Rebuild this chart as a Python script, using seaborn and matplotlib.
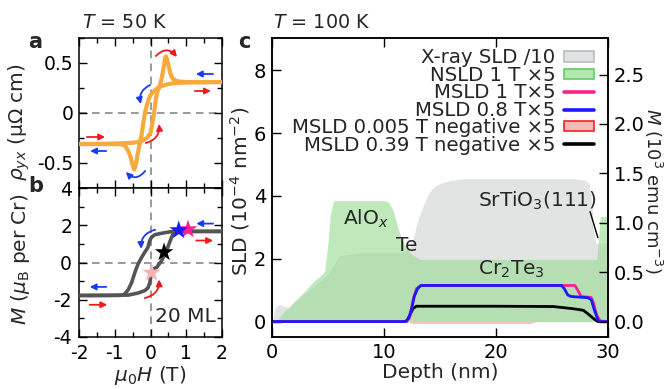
import numpy as np
import pandas as pd
import matplotlib
matplotlib.use("Agg")
import matplotlib.pyplot as plt
import seaborn as sns
from matplotlib.patches import Patch
from matplotlib.lines import Line2D
from matplotlib.ticker import MultipleLocator, FormatStrFormatter

# ---------------- data: panel a (Hall resistivity, 50 K) ----------------
rho_up_H = [-2.0, -1.5, -1.0, -0.6, -0.3, -0.2, -0.1, 0.0, 0.05, 0.1, 0.15, 0.2,
            0.26, 0.32, 0.38, 0.41, 0.43, 0.46, 0.50, 0.54, 0.58, 0.63, 0.70, 0.80,
            1.0, 1.5, 2.0]
rho_up = [-0.31, -0.31, -0.305, -0.30, -0.29, -0.27, -0.25, -0.20, -0.11, 0.0, 0.14, 0.22,
          0.27, 0.36, 0.48, 0.55, 0.565, 0.54, 0.48, 0.42, 0.37, 0.34, 0.325, 0.315,
          0.31, 0.31, 0.31]
rho_dn_H = [2.0, 1.0, 0.7, 0.5, 0.3, 0.2, 0.1, 0.0, -0.05, -0.1, -0.15, -0.2, -0.25,
            -0.3, -0.36, -0.41, -0.457, -0.5, -0.55, -0.62, -0.72, -0.85, -1.5, -2.0]
rho_dn = [0.31, 0.305, 0.30, 0.29, 0.27, 0.25, 0.22, 0.18, 0.14, 0.08, 0.01, -0.10, -0.22,
          -0.30, -0.41, -0.52, -0.565, -0.52, -0.45, -0.38, -0.323, -0.312, -0.31, -0.31]

# ---------------- data: panel b (magnetization, 50 K) ----------------
m_dn_H = [2.0, 1.0, 0.7, 0.59, 0.4, 0.26, 0.12, 0.03, -0.02, -0.07, -0.16, -0.25, -0.35,
          -0.44, -0.53, -0.62, -0.72, -0.81, -1.2, -2.0]
m_dn = [1.67, 1.67, 1.67, 1.66, 1.60, 1.55, 1.49, 1.36, 1.18, 0.82, 0.55, 0.27, -0.09,
        -0.55, -1.09, -1.45, -1.69, -1.76, -1.77, -1.77]
m_up_H = [-2.0, -1.0, -0.62, -0.35, -0.16, -0.07, -0.02, 0.01, 0.05, 0.10, 0.17, 0.31,
          0.40, 0.49, 0.59, 0.66, 0.73, 1.0, 2.0]
m_up = [-1.77, -1.76, -1.75, -1.64, -1.51, -1.36, -1.09, -0.73, -0.42, -0.32, -0.27, 0.09,
        0.45, 0.85, 1.36, 1.64, 1.67, 1.67, 1.67]
star_H = [0.03, 0.38, 1.05, 0.79]
star_M = [-0.55, 0.55, 1.78, 1.73]
star_colors = ["#f6b2b2", "#000000", "#ff1f8f", "#1a1aff"]

# ---------------- data: panel c (depth profiles, 100 K) ----------------
depth_x = [0, 0.3, 0.6, 1.0, 1.5, 2.0, 3.0, 4.0, 5.0, 6.0, 8.0, 10.0, 11.0, 12.0, 12.5,
           13.0, 13.5, 14.0, 14.5, 15.0, 16.0, 17.0, 20.0, 24.0, 27.0, 28.0, 28.3, 28.5,
           28.7, 28.9, 29.2, 30.0]
xray_sld = [0, 0.45, 0.55, 0.5, 0.45, 0.6, 0.9, 1.2, 1.5, 2.1, 2.2, 2.2, 2.2, 2.2, 2.5,
            3.2, 3.7, 4.1, 4.3, 4.4, 4.5, 4.55, 4.55, 4.55, 4.55, 4.5, 4.4, 4.0,
            3.0, 2.5, 2.5, 2.5]

depth_n = [0, 0.5, 1.0, 1.6, 2.0, 2.8, 3.7, 4.3, 4.7, 5.0, 5.2, 5.5, 6.0, 8.0, 10.0,
           10.4, 10.8, 11.3, 11.6, 12.3, 13.2, 16.0, 20.0, 24.0, 28.0, 29.0, 29.15, 29.3, 30.0]
nsld = [0, 0.05, 0.3, 0.49, 0.65, 0.92, 1.28, 1.45, 1.6, 2.5, 3.4, 3.85, 3.85, 3.85, 3.85,
        3.8, 3.55, 2.92, 2.6, 2.19, 1.98, 1.98, 1.98, 1.98, 1.98, 1.98, 2.6, 3.35, 3.35]

depth_r = [0, 12.0, 12.6, 23.0, 23.6, 30.0]
msld_neg005 = [0, 0, -0.06, -0.06, 0, 0]

depth_p = [0, 12.0, 12.3, 12.6, 12.9, 13.3, 20.0, 27.05, 27.3, 27.6, 28.5, 28.7, 29.0, 29.3, 30.0]
msld_1T = [0, 0, 0.15, 0.7, 1.05, 1.15, 1.15, 1.15, 1.0, 0.8, 0.77, 0.6, 0.2, 0.02, 0]

depth_b = [0, 11.9, 12.2, 12.5, 12.7, 13.0, 13.3, 20.0, 25.85, 26.1, 26.4, 26.7, 28.2,
           28.5, 28.8, 29.1, 29.3, 30.0]
msld_08T = [0, 0, 0.1, 0.45, 0.8, 1.05, 1.15, 1.15, 1.15, 1.05, 0.85, 0.8, 0.76,
            0.7, 0.35, 0.05, 0, 0]

depth_k = [0, 12.0, 12.3, 12.6, 12.9, 20.0, 25.1, 26.9, 27.8, 28.2, 28.7, 29.1, 30.0]
msld_039neg = [0, 0, 0.2, 0.42, 0.49, 0.49, 0.48, 0.41, 0.36, 0.25, 0.1, 0, 0]

legend_labels = ["X-ray SLD /10", "NSLD 1 T \u00d75", "MSLD 1 T\u00d75", "MSLD 0.8 T\u00d75",
                 "MSLD 0.005 T negative \u00d75", "MSLD 0.39 T negative \u00d75"]

# ---------------- style ----------------
sns.set_style("ticks")
plt.rcParams["font.family"] = ["DejaVu Sans"]
plt.rcParams["mathtext.fontset"] = "dejavusans"
plt.rcParams["axes.unicode_minus"] = False
plt.rcParams["axes.linewidth"] = 1.1
plt.rcParams["xtick.color"] = "black"
plt.rcParams["ytick.color"] = "black"
plt.rcParams["axes.edgecolor"] = "black"

ORANGE = "#f7a93c"
GRAY = "#555555"
RED = "#f01a1a"
BLUE = "#1a3cf0"
PINK = "#ff1f8f"
DBLUE = "#1a1aff"

W, H = 666, 389
fig = plt.figure(figsize=(W / 100, H / 100), dpi=100)
axa = fig.add_axes([79 / W, 1 - 188 / H, 143 / W, 150 / H])
axb = fig.add_axes([79 / W, 1 - 337 / H, 143 / W, 149 / H])
axc = fig.add_axes([272 / W, 1 - 337 / H, 336 / W, 299 / H])


def arrow(ax, start, end, color, rad=0.0):
    ax.annotate("", xy=end, xytext=start,
                arrowprops=dict(arrowstyle="-|>", color=color, lw=1.3,
                                mutation_scale=9, shrinkA=0, shrinkB=0,
                                connectionstyle=f"arc3,rad={rad}"), zorder=6)


# ---------------- panel a ----------------
for ax in (axa, axb):
    ax.axvline(0, color="#7f7f7f", ls=(0, (5, 3.5)), lw=1.1, zorder=0)
    ax.axhline(0, color="#7f7f7f", ls=(0, (5, 3.5)), lw=1.1, zorder=0)

sns.lineplot(x=rho_up_H, y=rho_up, ax=axa, color=ORANGE, lw=3.0, sort=False,
             estimator=None, solid_capstyle="round", solid_joinstyle="round", zorder=3)
sns.lineplot(x=rho_dn_H, y=rho_dn, ax=axa, color=ORANGE, lw=3.0, sort=False,
             estimator=None, solid_capstyle="round", solid_joinstyle="round", zorder=3)
axa.set_xlim(-2, 2)
axa.set_ylim(-0.75, 0.75)
axa.set_yticks([-0.5, 0, 0.5])
axa.yaxis.set_major_formatter(matplotlib.ticker.FuncFormatter(
    lambda v, p: "0" if abs(v) < 1e-9 else f"{v:g}"))
axa.yaxis.set_minor_locator(MultipleLocator(0.25))
axa.xaxis.set_major_locator(MultipleLocator(1))
axa.xaxis.set_minor_locator(MultipleLocator(0.5))
axa.tick_params(which="both", direction="in", top=True, right=True, labelbottom=False,
                labelsize=13.5, width=1.0, pad=4)
axa.tick_params(which="major", length=5.5)
axa.tick_params(which="minor", length=3.5)
axa.set_xlabel("")
axa.set_ylabel(r"$\rho_{yx}$ ($\mathrm{\mu\Omega}$ cm)", fontsize=14.5)
axa.yaxis.set_label_coords(-0.33, 0.44)

arrow(axa, (0.15, 0.57), (0.74, 0.56), RED, rad=-0.55)
arrow(axa, (1.75, 0.39), (1.27, 0.39), BLUE)
arrow(axa, (1.24, 0.22), (1.69, 0.22), RED)
arrow(axa, (-0.01, 0.28), (-0.27, 0.09), BLUE, rad=0.4)
arrow(axa, (-0.13, -0.30), (0.24, -0.11), RED, rad=0.4)
arrow(axa, (-1.78, -0.24), (-1.27, -0.24), RED)
arrow(axa, (-1.24, -0.38), (-1.69, -0.38), BLUE)
arrow(axa, (-0.15, -0.58), (-0.69, -0.59), BLUE, rad=-0.55)

# ---------------- panel b ----------------
sns.lineplot(x=m_dn_H, y=m_dn, ax=axb, color=GRAY, lw=2.6, sort=False, estimator=None,
             solid_capstyle="round", solid_joinstyle="round", zorder=3)
sns.lineplot(x=m_up_H, y=m_up, ax=axb, color=GRAY, lw=2.6, sort=False, estimator=None,
             solid_capstyle="round", solid_joinstyle="round", zorder=3)
star_df = pd.DataFrame({"H": star_H, "M": star_M, "c": star_colors})
sns.scatterplot(data=star_df, x="H", y="M", hue="c", palette={c: c for c in star_colors},
                marker="*", s=200, edgecolor="none", legend=False, ax=axb, zorder=5)
axb.set_xlim(-2, 2)
axb.set_ylim(-4, 4)
axb.set_yticks([-4, -2, 0, 2, 4])
axb.yaxis.set_minor_locator(MultipleLocator(1))
axb.xaxis.set_major_locator(MultipleLocator(1))
axb.xaxis.set_minor_locator(MultipleLocator(0.5))
axb.tick_params(which="both", direction="in", top=True, right=True, labelsize=13.5,
                width=1.0, pad=5)
axb.tick_params(which="major", length=5.5)
axb.tick_params(which="minor", length=3.5)
axb.set_xlabel(r"$\mu_0H$ (T)", fontsize=14.5)
axb.xaxis.set_label_coords(0.5, -0.18)
axb.set_ylabel(r"$M$ ($\mu_\mathrm{B}$ per Cr)", fontsize=14.5)
axb.yaxis.set_label_coords(-0.33, 0.52)
axb.text(0.965, -2.9, "20 ML", fontsize=14.5, ha="center", va="center", zorder=6)

arrow(axb, (1.75, 2.09), (1.28, 2.09), BLUE)
arrow(axb, (1.28, 1.18), (1.75, 1.18), RED)
arrow(axb, (0.13, 1.76), (-0.26, 0.73), BLUE, rad=0.4)
arrow(axb, (-1.24, -1.31), (-1.70, -1.31), BLUE)
arrow(axb, (-1.70, -2.27), (-1.21, -2.27), RED)
arrow(axb, (-0.16, -1.91), (0.24, -0.91), RED, rad=0.4)

# ---------------- panel c ----------------
axc.fill_between(depth_x, 0, xray_sld, color="#e2e4e4", lw=0, zorder=1)
axc.fill_between(depth_n, 0, nsld, color="#9edd99", alpha=0.66, lw=0, zorder=2)
axc.fill_between(depth_r, 0, msld_neg005, color="#f5b0b0", alpha=0.8, lw=0, zorder=2.5)
sns.lineplot(x=depth_k, y=msld_039neg, ax=axc, color="black", lw=2.0, sort=False,
             estimator=None, zorder=3)
sns.lineplot(x=depth_p, y=msld_1T, ax=axc, color=PINK, lw=2.0, sort=False,
             estimator=None, zorder=3.5)
sns.lineplot(x=depth_b, y=msld_08T, ax=axc, color=DBLUE, lw=2.0, sort=False,
             estimator=None, zorder=4)
axc.set_xlim(0, 30)
axc.set_ylim(-0.49, 9.03)
axc.set_xticks([0, 10, 20, 30])
axc.set_yticks([0, 2, 4, 6, 8])
axc.tick_params(direction="in", top=True, right=False, length=6.5, width=1.0,
                labelsize=14, pad=4)
axc.set_xlabel("Depth (nm)", fontsize=14.5)
axc.xaxis.set_label_coords(0.5, -0.088)
axc.set_ylabel(r"SLD (10$^{-4}$ nm$^{-2}$)", fontsize=14.5)
axc.yaxis.set_label_coords(-0.06, 0.488)

ax2 = axc.twinx()
ax2.set_ylim(-0.155, 2.87)
ax2.set_yticks([0.0, 0.5, 1.0, 1.5, 2.0, 2.5])
ax2.yaxis.set_major_formatter(FormatStrFormatter("%.1f"))
ax2.tick_params(direction="in", length=6.5, width=1.0, labelsize=14, pad=4)
ax2.set_ylabel(r"$M$ (10$^3$ emu cm$^{-3}$)", fontsize=13, rotation=270, va="bottom")
ax2.yaxis.set_label_coords(1.10, 0.488)
for sp in ax2.spines.values():
    sp.set_linewidth(1.1)

axc.text(6.3, 3.09, r"AlO$_x$", fontsize=14.5, ha="left", va="baseline", zorder=6)
axc.text(11.1, 2.26, "Te", fontsize=14.5, ha="left", va="baseline", zorder=6)
axc.text(18.4, 1.5, r"Cr$_2$Te$_3$", fontsize=14.5, ha="left", va="baseline", zorder=6)
axc.text(18.4, 3.67, r"SrTiO$_3$(111)", fontsize=14.5, ha="left", va="baseline", zorder=6)
axc.plot([28.4, 29.1], [3.5, 2.67], color="black", lw=1.0, zorder=6)

handles = [
    Patch(facecolor="#dfe2e2", edgecolor="#b9bdbd", lw=1.2),
    Patch(facecolor="#b4e6b0", edgecolor="#5fcf5f", lw=1.2),
    Line2D([], [], color=PINK, lw=2.6),
    Line2D([], [], color=DBLUE, lw=2.6),
    Patch(facecolor="#f6b8b8", edgecolor="#ff2020", lw=1.2),
    Line2D([], [], color="black", lw=2.6),
]
leg = axc.legend(handles=handles, labels=legend_labels, loc="upper right",
                 bbox_to_anchor=(0.958, 0.965), frameon=False, markerfirst=False,
                 fontsize=14.2, handlelength=1.5, handleheight=0.45, handletextpad=0.45,
                 labelspacing=-0.08, borderpad=0, borderaxespad=0)
leg.set_zorder(7)

# ---------------- figure texts ----------------
fig.text(82 / W, 1 - 28 / H, r"$T$ = 50 K", fontsize=13.8, ha="left", va="baseline")
fig.text(273 / W, 1 - 28 / H, r"$T$ = 100 K", fontsize=13.8, ha="left", va="baseline")
fig.text(28 / W, 1 - 48 / H, "a", fontsize=15, fontweight="bold", ha="left", va="baseline")
fig.text(28 / W, 1 - 192 / H, "b", fontsize=15, fontweight="bold", ha="left", va="baseline")
fig.text(238 / W, 1 - 48 / H, "c", fontsize=15, fontweight="bold", ha="left", va="baseline")

fig.savefig("out.png", dpi=100)
